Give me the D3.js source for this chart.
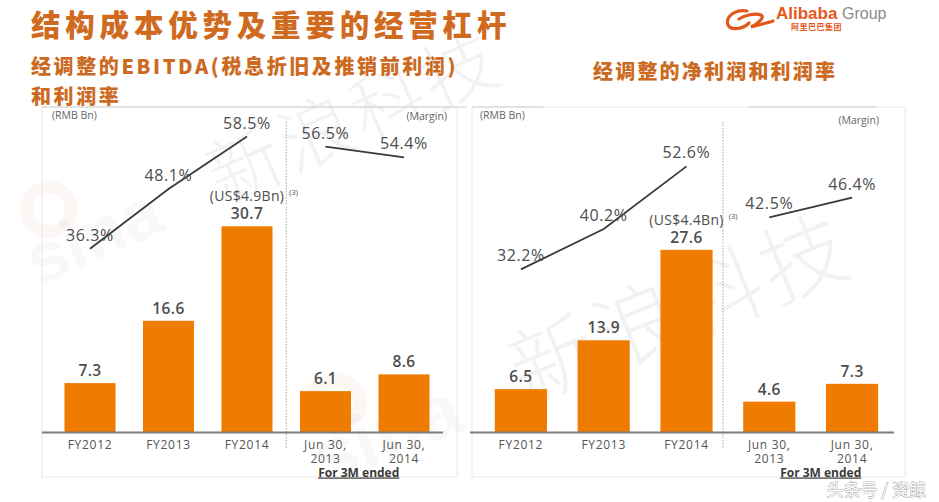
<!DOCTYPE html>
<html>
<head>
<meta charset="utf-8">
<script src="https://cdn.jsdelivr.net/npm/d3@7/dist/d3.min.js"></script>
<style>
  html, body { margin: 0; padding: 0; background: #fff; }
  svg { display: block; }
</style>
</head>
<body>
<svg id="chart" width="939" height="502"></svg>
<script>
// ---------- DATA ----------
const categories = ["FY2012", "FY2013", "FY2014", "Jun 30,|2013", "Jun 30,|2014"];
const ebitdaValues = [7.3, 16.6, 30.7, 6.1, 8.6];
const ebitdaMargins = [36.3, 48.1, 58.5, 56.5, 54.4];
const netIncomeValues = [6.5, 13.9, 27.6, 4.6, 7.3];
const netIncomeMargins = [32.2, 40.2, 52.6, 42.5, 46.4];
const usdNotes = ["(US$4.9Bn)", "(US$4.4Bn)"];
const titleText = "结构成本优势及重要的经营杠杆";
const subtitleLeft = ["经调整的EBITDA(税息折旧及推销前利润)", "和利润率"];
const subtitleRight = "经调整的净利润和利润率";
const periodNote = "For 3M ended";

// ---------- STYLE ----------
const ORANGE = "#ef7b00";
const TITLE = "#d06a1f";
const TEXT = "#4d4d4d";
const LABEL_FONT = "'Open Sans', 'Liberation Sans', sans-serif";
const CJK_FONT = "'Noto Sans CJK SC', sans-serif";

const svg = d3.select("#chart");

// ---------- WATERMARKS ----------
const wm = svg.append("g").attr("pointer-events", "none");
function watermark(x, y, rot, size, sinaSize, sinaDx) {
  const g = wm.append("g").attr("transform", `translate(${x},${y}) rotate(${rot})`);
  g.append("circle").attr("cx", sinaDx + 40).attr("cy", -sinaSize * 0.95).attr("r", sinaSize * 0.32)
    .attr("fill", "none").attr("stroke", "#c84a3a").attr("stroke-opacity", 0.05).attr("stroke-width", sinaSize * 0.18);
  g.append("text").attr("x", sinaDx).attr("y", 0)
    .attr("font-family", "'Liberation Sans', sans-serif").attr("font-weight", 700)
    .attr("font-size", sinaSize).attr("fill", "#b0b0b0").attr("fill-opacity", 0.09)
    .text("sina");
  g.append("text").attr("x", 0).attr("y", 0)
    .attr("font-family", CJK_FONT).attr("font-weight", 300)
    .attr("font-size", size).attr("fill", "#000").attr("fill-opacity", 0.05)
    .attr("letter-spacing", 4)
    .text("新浪科技");
}
watermark(222, 205, -24, 74, 70, -200);
watermark(525, 405, -22, 86, 76, -215);

// ---------- TITLE ----------
svg.append("text").attr("x", 31).attr("y", 36)
  .attr("font-family", CJK_FONT).attr("font-weight", 900).attr("font-size", 29.5)
  .attr("letter-spacing", 4.8).attr("fill", TITLE).text(titleText);

// ---------- LOGO ----------
const logo = svg.append("g").attr("transform", "translate(725,3)");
logo.append("path")
  .attr("d", "M22,8 C10,6 0,14 3,22 C6,28 18,26 24,20 M14,16 C20,12 30,10 36,12 C40,14 34,20 26,24 C34,22 42,20 48,18")
  .attr("fill", "none").attr("stroke", "#e4571b").attr("stroke-width", 3.2).attr("stroke-linecap", "round");
logo.append("text").attr("x", 51).attr("y", 16)
  .attr("font-family", "'Liberation Sans', sans-serif").attr("font-weight", 700).attr("font-size", 17)
  .attr("fill", "#e4571b").text("Alibaba");
logo.append("text").attr("x", 117).attr("y", 16)
  .attr("font-family", "'Liberation Sans', sans-serif").attr("font-size", 16)
  .attr("fill", "#8a8a8a").text("Group");
logo.append("text").attr("x", 66).attr("y", 27)
  .attr("font-family", CJK_FONT).attr("font-weight", 700).attr("font-size", 8)
  .attr("fill", "#e4571b").attr("letter-spacing", 0.5).text("阿里巴巴集团");

// ---------- SUBTITLES ----------
function subtitle(x, y, t, ls) {
  svg.append("text").attr("x", x).attr("y", y)
    .attr("font-family", CJK_FONT).attr("font-weight", 900).attr("font-size", 20)
    .attr("letter-spacing", ls).attr("fill", "#cc6a22").text(t);
}
subtitle(31, 74, subtitleLeft[0], 2.6);
subtitle(31, 104, subtitleLeft[1], 2.6);
subtitle(593, 79, subtitleRight, 2.2);

// ---------- PANELS ----------
function drawPanel(cfg) {
  const g = svg.append("g");
  // panel frame
  g.append("rect").attr("x", cfg.frame[0]).attr("y", cfg.frame[1])
    .attr("width", cfg.frame[2]).attr("height", cfg.frame[3])
    .attr("fill", "none").attr("stroke", "#e8e8e8").attr("stroke-width", 1);
  cfg.topLines.forEach(l => {
    g.append("line").attr("x1", l[0]).attr("x2", l[1]).attr("y1", cfg.frame[1]).attr("y2", cfg.frame[1])
      .attr("stroke", "#d2d2d2").attr("stroke-width", 1.2);
  });

  const x = d3.scaleBand().domain(categories).range(cfg.xRange)
    .paddingInner(cfg.padIn).paddingOuter(cfg.padIn / 2);
  const y = d3.scaleLinear().domain([0, 30]).range([cfg.base, cfg.base - cfg.pxPerUnit * 30]);
  const yM = d3.scaleLinear().domain([0, 60]).range([cfg.base, cfg.base - 5.05 * 60]);
  const cx = c => x(c) + x.bandwidth() / 2;

  // divider (dotted)
  const divX = (cx(categories[2]) + cx(categories[3])) / 2 + cfg.divOffset;
  g.append("line").attr("x1", divX).attr("x2", divX).attr("y1", 122).attr("y2", 448)
    .attr("stroke", "#a9b7c6").attr("stroke-width", 1.2).attr("stroke-dasharray", "1.5,1.5");

  // bars
  g.selectAll("rect.bar").data(cfg.values).join("rect").attr("class", "bar")
    .attr("x", (d, i) => x(categories[i])).attr("width", x.bandwidth())
    .attr("y", d => y(d)).attr("height", d => cfg.base - y(d))
    .attr("fill", ORANGE);

  // baseline axis
  const axis = d3.axisBottom(x).tickSize(0).tickFormat("");
  const ax = g.append("g").attr("transform", `translate(0,${cfg.base})`).call(axis);
  ax.select(".domain").remove();
  g.append("line").attr("x1", cfg.baseLine[0]).attr("x2", cfg.baseLine[1])
    .attr("y1", cfg.base + 0.5).attr("y2", cfg.base + 0.5)
    .attr("stroke", "#7d7d7d").attr("stroke-width", 2);

  // category labels
  categories.forEach(c => {
    const lines = c.split("|");
    const t = g.append("text").attr("x", cx(c)).attr("y", cfg.base + 17)
      .attr("text-anchor", "middle").attr("font-family", LABEL_FONT).attr("font-size", 12)
      .attr("letter-spacing", 0.7).attr("fill", "#555");
    lines.forEach((ln, k) => t.append("tspan").attr("x", cx(c)).attr("dy", k === 0 ? 0 : 13.5).text(ln));
  });
  g.append("text").attr("x", (cx(categories[3]) + cx(categories[4])) / 2 + cfg.noteDx).attr("y", cfg.base + 44.5)
    .attr("text-anchor", "middle").attr("font-family", LABEL_FONT).attr("font-size", 12)
    .attr("font-weight", 700).attr("fill", "#3a3a3a").attr("text-decoration", "underline")
    .text(periodNote);

  // value labels
  g.selectAll("text.val").data(cfg.values).join("text").attr("class", "val")
    .attr("x", (d, i) => cx(categories[i])).attr("y", d => y(d) - 7)
    .attr("text-anchor", "middle").attr("font-family", LABEL_FONT).attr("font-size", 15.5)
    .attr("font-weight", 600).attr("letter-spacing", 0.4).attr("fill", TEXT)
    .text(d => d.toFixed(1));

  // USD note above the FY2014 bar
  const vi = 2;
  const note = g.append("text").attr("x", cx(categories[vi])).attr("y", y(cfg.values[vi]) - 25)
    .attr("text-anchor", "middle").attr("font-family", LABEL_FONT).attr("font-size", 14)
    .attr("letter-spacing", 0.3).attr("fill", TEXT).text(cfg.usd);
  const nw = note.node().getComputedTextLength();
  g.append("text").attr("x", cx(categories[vi]) + nw / 2 + 5).attr("y", y(cfg.values[vi]) - 31)
    .attr("font-family", LABEL_FONT).attr("font-size", 7.5).attr("fill", TEXT).text("(3)");

  // margin lines
  const line = d3.line().x(d => cx(categories[d.i])).y(d => yM(d.m));
  const pts = cfg.margins.map((m, i) => ({ m, i }));
  [pts.slice(0, 3), pts.slice(3)].forEach(seg => {
    g.append("path").attr("d", line(seg)).attr("fill", "none")
      .attr("stroke", "#3a3a3a").attr("stroke-width", 1.8);
  });
  g.selectAll("text.mg").data(pts).join("text").attr("class", "mg")
    .attr("x", d => cx(categories[d.i])).attr("y", d => yM(d.m) - 8)
    .attr("text-anchor", "middle").attr("font-family", LABEL_FONT).attr("font-size", 16)
    .attr("letter-spacing", 0.6).attr("fill", TEXT)
    .text(d => d.m.toFixed(1) + "%");

  // unit labels
  g.append("text").attr("x", cfg.rmbX).attr("y", 119)
    .attr("font-family", LABEL_FONT).attr("font-size", 10.5).attr("fill", "#666").text("(RMB Bn)");
  g.append("text").attr("x", cfg.marginX).attr("y", cfg.marginY).attr("text-anchor", "end")
    .attr("font-family", LABEL_FONT).attr("font-size", 10.5).attr("fill", "#666").text("(Margin)");
}

drawPanel({
  values: ebitdaValues, margins: ebitdaMargins, usd: usdNotes[0],
  xRange: [50.75, 443.25], padIn: 0.35, base: 432, pxPerUnit: 6.7,
  frame: [42, 107, 415, 370], topLines: [[42, 467]], baseLine: [42, 443],
  divOffset: 0, noteDx: -6, rmbX: 52, marginX: 447, marginY: 120
});
drawPanel({
  values: netIncomeValues, margins: netIncomeMargins, usd: usdNotes[1],
  xRange: [479.5, 893.5], padIn: 0.37, base: 432, pxPerUnit: 6.6,
  frame: [472, 107, 433, 370], topLines: [[472, 543], [748, 877]], baseLine: [470, 894],
  divOffset: -5, noteDx: 10, rmbX: 480, marginX: 879, marginY: 124
});

// ---------- SOURCE WATERMARK ----------
svg.append("text").attr("x", 926).attr("y", 496).attr("text-anchor", "end")
  .attr("font-family", CJK_FONT).attr("font-size", 17).attr("fill", "#fff")
  .attr("stroke", "#8c8c8c").attr("stroke-width", 0.7).attr("paint-order", "stroke")
  .text("头条号 / 资鲸");
</script>
</body>
</html>
